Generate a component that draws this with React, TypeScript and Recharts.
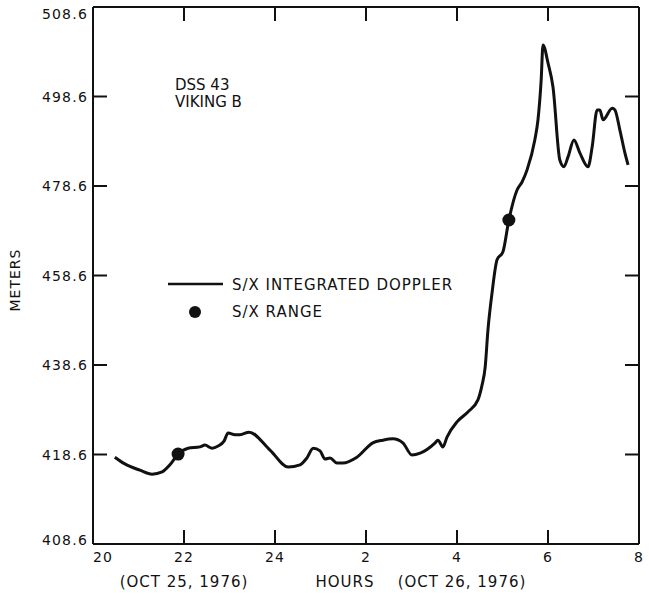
import React from 'react';
import { ComposedChart, Line, Scatter, XAxis, YAxis } from 'recharts';

// Hours (20..32 = 20h Oct 25 through 08h Oct 26) and meters for the integrated doppler trace
const dopplerHours = [
  20.48, 20.7, 21.03, 21.3, 21.52, 21.69, 21.87, 22.09, 22.35, 22.46, 22.62, 22.75, 22.88, 22.97,
  23.12, 23.23, 23.43, 23.89, 24.29, 24.55, 24.7, 24.84, 24.99, 25.1, 25.21, 25.36, 25.49, 25.8,
  26.15, 26.37, 26.59, 26.81, 27.01, 27.19, 27.52, 27.58, 27.69, 27.78, 28.0, 28.24, 28.46, 28.55,
  28.62, 28.68, 28.77, 28.88, 29.01, 29.14, 29.32, 29.43, 29.54, 29.71, 29.78, 29.85, 29.89, 30.0,
  30.11, 30.26, 30.35, 30.44, 30.57, 30.7, 30.88, 30.97, 31.08, 31.14, 31.21, 31.41, 31.47, 31.58,
  31.69, 31.76,
];
const dopplerMeters = [
  418.0, 416.5, 415.1, 414.2, 414.7, 416.3, 418.7, 420.0, 420.3, 420.7, 420.0, 420.5, 421.6, 423.4,
  423.0, 423.0, 423.6, 419.6, 415.8, 416.3, 417.8, 420.0, 419.4, 417.6, 417.8, 416.7, 416.7, 418.0,
  421.2, 421.8, 422.1, 421.2, 418.5, 418.9, 421.2, 421.8, 420.3, 422.5, 425.9, 428.1, 430.8, 434.1,
  438.2, 446.4, 454.7, 462.1, 463.9, 471.0, 477.7, 479.5, 482.2, 488.9, 493.4, 502.3, 510.1, 506.1,
  500.7, 484.4, 482.9, 485.1, 488.9, 486.0, 482.9, 487.3, 495.6, 495.6, 493.4, 496.0, 495.6, 491.1,
  486.0, 483.3,
];

// S/X range points
const rangeHours = [21.87, 29.14];
const rangeMeters = [418.7, 471.0];

// Axes
const xTicks = [20, 22, 24, 26, 28, 30, 32];
const xTickLabels = ['20', '22', '24', '2', '4', '6', '8'];
const yTicks = [398.6, 418.6, 438.6, 458.6, 478.6, 498.6, 518.6];
const yTickLabels = ['408.6', '418.6', '438.6', '458.6', '478.6', '498.6', '508.6'];

const dopplerData = dopplerHours.map((h, i) => ({ h, v: dopplerMeters[i] }));
const rangeData = rangeHours.map((h, i) => ({ h, v: rangeMeters[i] }));

const INK = '#111';
const FONT = "'DejaVu Sans', sans-serif";
const TICK_LEN = 14;

const xDomain: [number, number] = [xTicks[0], xTicks[xTicks.length - 1]];
const yDomain: [number, number] = [yTicks[0], yTicks[yTicks.length - 1]];

const nearIdx = (arr: number[], v: number) => arr.findIndex((a) => Math.abs(a - v) < 1e-6);
const isInner = (i: number, n: number) => i > 0 && i < n - 1;

const bottomTick = (p: any) => {
  const i = nearIdx(xTicks, p.payload.value);
  return (
    <g key={`bt${i}`}>
      {isInner(i, xTicks.length) && (
        <line x1={p.x} x2={p.x} y1={p.y} y2={p.y - TICK_LEN} stroke={INK} strokeWidth={2} />
      )}
      <text
        x={p.x}
        y={p.y + 18}
        textAnchor={i === 0 ? 'start' : 'middle'}
        fontSize={14}
        letterSpacing={1.2}
        fontFamily={FONT}
        fill={INK}
      >
        {xTickLabels[i] ?? ''}
      </text>
    </g>
  );
};

const leftTick = (p: any) => {
  const i = nearIdx(yTicks, p.payload.value);
  const nudge = i === yTicks.length - 1 ? 7 : i === 0 ? -4 : 0;
  return (
    <g key={`lt${i}`}>
      {isInner(i, yTicks.length) && (
        <line x1={p.x} x2={p.x + TICK_LEN} y1={p.y} y2={p.y} stroke={INK} strokeWidth={2} />
      )}
      <text
        x={p.x - 5}
        y={p.y + 5 + nudge}
        textAnchor="end"
        fontSize={14}
        letterSpacing={1.2}
        fontFamily={FONT}
        fill={INK}
      >
        {yTickLabels[i] ?? ''}
      </text>
    </g>
  );
};

const topTick = (p: any) => {
  const i = nearIdx(xTicks, p.payload.value);
  return isInner(i, xTicks.length) ? (
    <line key={`tt${i}`} x1={p.x} x2={p.x} y1={p.y} y2={p.y + TICK_LEN} stroke={INK} strokeWidth={2} />
  ) : (
    <g key={`tt${i}`} />
  );
};

const rightTick = (p: any) => {
  const i = nearIdx(yTicks, p.payload.value);
  return isInner(i, yTicks.length) ? (
    <line key={`rt${i}`} x1={p.x} x2={p.x - TICK_LEN} y1={p.y} y2={p.y} stroke={INK} strokeWidth={2} />
  ) : (
    <g key={`rt${i}`} />
  );
};

export default function App() {
  const axisLine = { stroke: INK, strokeWidth: 2 };
  return (
    <div style={{ position: 'absolute', left: 0, top: 0, width: 649, height: 605, background: '#fff' }}>
      <ComposedChart width={649} height={605} margin={{ top: 6, right: 9, bottom: 31, left: 0 }}>
        <XAxis
          xAxisId="b"
          type="number"
          dataKey="h"
          domain={xDomain}
          ticks={xTicks}
          interval={0}
          allowDataOverflow
          height={30}
          tickSize={0}
          tickMargin={0}
          tick={bottomTick}
          axisLine={axisLine}
        />
        <XAxis
          xAxisId="t"
          orientation="top"
          type="number"
          dataKey="h"
          domain={xDomain}
          ticks={xTicks}
          interval={0}
          allowDataOverflow
          height={1}
          tickSize={0}
          tickMargin={0}
          tick={topTick}
          axisLine={axisLine}
        />
        <YAxis
          yAxisId="l"
          type="number"
          dataKey="v"
          domain={yDomain}
          ticks={yTicks}
          interval={0}
          allowDataOverflow
          width={93}
          tickSize={0}
          tickMargin={0}
          tick={leftTick}
          axisLine={axisLine}
        />
        <YAxis
          yAxisId="r"
          orientation="right"
          type="number"
          dataKey="v"
          domain={yDomain}
          ticks={yTicks}
          interval={0}
          allowDataOverflow
          width={1}
          tickSize={0}
          tickMargin={0}
          tick={rightTick}
          axisLine={axisLine}
        />
        <Line
          xAxisId="b"
          yAxisId="l"
          data={dopplerData}
          dataKey="v"
          type="monotone"
          stroke={INK}
          strokeWidth={3}
          dot={false}
          isAnimationActive={false}
        />
        <Scatter
          xAxisId="t"
          yAxisId="r"
          data={rangeData}
          dataKey="v"
          fill={INK}
          isAnimationActive={false}
          shape={(p: any) => <circle cx={p.cx} cy={p.cy} r={6.5} fill={INK} />}
        />
      </ComposedChart>
      <svg
        width={649}
        height={605}
        style={{ position: 'absolute', left: 0, top: 0, pointerEvents: 'none' }}
        fontFamily={FONT}
        fill={INK}
      >
        <text x={175} y={90} fontSize={15}>DSS 43</text>
        <text x={175} y={107} fontSize={15}>VIKING B</text>
        <line x1={168} y1={284} x2={223} y2={284} stroke={INK} strokeWidth={2.5} />
        <text x={232} y={290} fontSize={15} letterSpacing={1}>S/X INTEGRATED DOPPLER</text>
        <circle cx={195} cy={312} r={6} fill={INK} />
        <text x={232} y={317} fontSize={15} letterSpacing={1}>S/X RANGE</text>
        <text
          x={20}
          y={280}
          fontSize={14}
          letterSpacing={1}
          textAnchor="middle"
          transform="rotate(-90 20 280)"
        >
          METERS
        </text>
        <text x={184} y={587} fontSize={15} letterSpacing={1} textAnchor="middle">(OCT 25, 1976)</text>
        <text x={345} y={587} fontSize={15} letterSpacing={1} textAnchor="middle">HOURS</text>
        <text x={462} y={587} fontSize={15} letterSpacing={1} textAnchor="middle">(OCT 26, 1976)</text>
      </svg>
    </div>
  );
}
